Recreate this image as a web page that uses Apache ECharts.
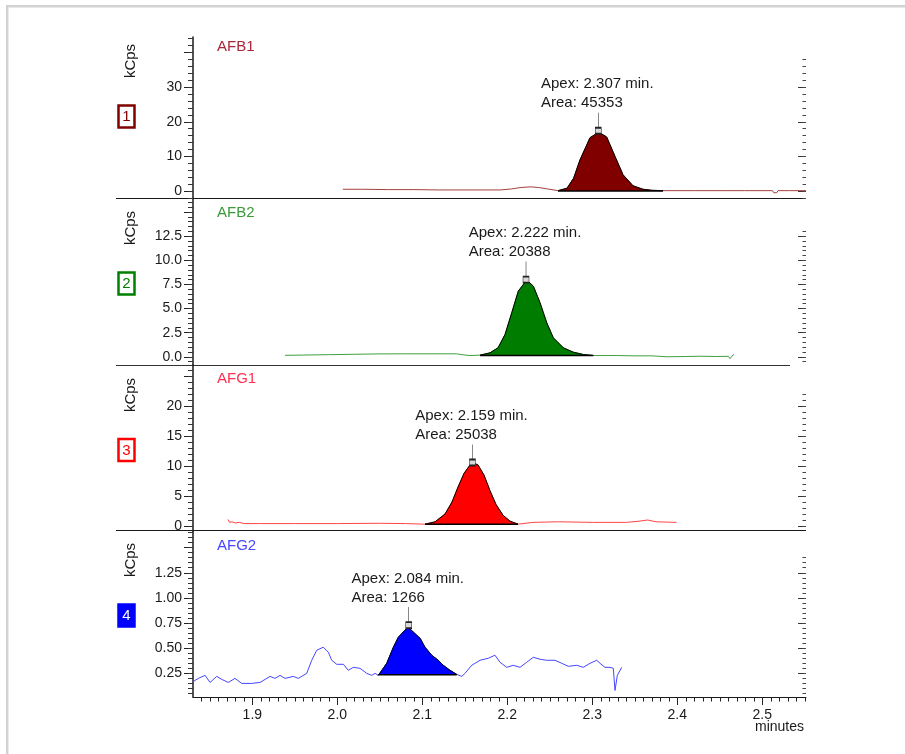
<!DOCTYPE html>
<html lang="en">
<head>
<meta charset="utf-8">
<title>AFB1 / AFB2 / AFG1 / AFG2</title>
<script src="https://cdn.jsdelivr.net/npm/echarts@6/dist/echarts.min.js"></script>
<style>
html, body {margin: 0; padding: 0; background: #fff;}
#chart {width: 905px; height: 754px;}
</style>
</head>
<body>
<div id="chart"></div>
<script>
// retention time (minutes) and signal (kCps)
const afb1Time = [2.0065, 2.030, 2.060, 2.090, 2.120, 2.150, 2.175, 2.192, 2.205, 2.216, 2.227, 2.237, 2.247,
	2.2596, 2.2702, 2.2780, 2.2855, 2.2973, 2.3075, 2.3169, 2.3267, 2.3361, 2.3479, 2.3596, 2.3700, 2.3832,
	2.420, 2.455, 2.4790, 2.4805, 2.4820, 2.5120, 2.5135, 2.5170, 2.5185, 2.5290, 2.5305, 2.5320, 2.5514];
const afb1Signal = [0.5, 0.5, 0.4, 0.4, 0.3, 0.3, 0.3, 0.3, 0.6, 1.0, 1.2, 1.0, 0.6,
	0.1, 0.8, 3.7, 9.0, 15.4, 17.0, 15.6, 10.0, 4.7, 1.5, 0.5, 0.2, 0.1,
	0.1, 0.1, 0.1, -0.4, 0.1, 0.1, -0.5, -0.5, 0.1, 0.1, -0.4, 0.1, 0.1];

const afb2Time = [1.9385, 1.960, 1.990, 2.020, 2.050, 2.080, 2.110, 2.140, 2.1480, 2.1560,
	2.1679, 2.1796, 2.1891, 2.1973, 2.2052, 2.2129, 2.2228, 2.2306, 2.2385, 2.2464, 2.2541, 2.2659, 2.2776, 2.2894, 2.3012,
	2.330, 2.3479, 2.3495, 2.370, 2.3879, 2.410, 2.4268, 2.4450, 2.4600, 2.4620, 2.4640, 2.4667];
const afb2Signal = [0.15, 0.18, 0.22, 0.26, 0.3, 0.31, 0.31, 0.31, 0.2, 0.13,
	0.17, 0.41, 0.93, 2.31, 4.56, 6.80, 7.95, 7.32, 5.60, 3.52, 1.97, 0.93, 0.48, 0.24, 0.13,
	0.13, 0.1, 0.15, 0.1, 0.0, 0.03, 0.06, 0.03, 0.05, -0.2, 0.05, 0.25];

const afg1Time = [1.8714, 1.8730, 1.8760, 1.8800, 1.8850, 1.8900, 1.9100, 1.9500, 2.0000, 2.0500, 2.0800,
	2.1032, 2.1150, 2.1267, 2.1349, 2.1420, 2.1491, 2.1561, 2.1590, 2.1655, 2.1726, 2.1796, 2.1867, 2.1949, 2.2032, 2.2126,
	2.2300, 2.2600, 2.3000, 2.3400, 2.3550, 2.3650, 2.3750, 2.3990];
const afg1Signal = [1.1, 0.6, 0.7, 0.5, 0.6, 0.4, 0.4, 0.4, 0.4, 0.45, 0.4,
	0.3, 0.7, 2.0, 4.0, 6.5, 8.8, 10.2, 10.6, 10.2, 8.5, 5.9, 3.6, 1.8, 0.8, 0.3,
	0.6, 0.7, 0.6, 0.6, 0.8, 1.0, 0.7, 0.6];

const afg2Time = [1.8306, 1.8365, 1.8444, 1.8503, 1.8581, 1.8640, 1.8718, 1.8796, 1.8875, 1.8993,
	1.9091, 1.9209, 1.9267, 1.9326, 1.9385, 1.9482, 1.9541, 1.9640, 1.9699, 1.9758,
	1.9835, 1.9894, 1.9934, 1.9993, 2.0071, 2.0129, 2.0188, 2.0267, 2.0346, 2.0405,
	2.0444, 2.0482, 2.0581, 2.0659, 2.0718, 2.0796, 2.0835, 2.0894, 2.0973, 2.1032,
	2.1111, 2.1188, 2.1247, 2.1326, 2.1405, 2.1464, 2.1502, 2.1581, 2.1679, 2.1776,
	2.1855, 2.1914, 2.1993, 2.2071, 2.2149, 2.2228, 2.2306, 2.2385, 2.2464, 2.2561,
	2.2640, 2.2718, 2.2816, 2.2894, 2.2973, 2.3052, 2.3091, 2.3149, 2.3208, 2.3247,
	2.3267, 2.3294, 2.3346];
const afg2Signal = [0.17, 0.20, 0.23, 0.16, 0.22, 0.19, 0.16, 0.20, 0.15, 0.15,
	0.16, 0.22, 0.20, 0.23, 0.20, 0.22, 0.20, 0.25, 0.38, 0.48,
	0.51, 0.46, 0.38, 0.34, 0.34, 0.28, 0.31, 0.30, 0.25, 0.23,
	0.25, 0.23, 0.35, 0.51, 0.61, 0.68, 0.71, 0.66, 0.60, 0.51,
	0.43, 0.38, 0.33, 0.28, 0.24, 0.22, 0.25, 0.33, 0.38, 0.40,
	0.43, 0.36, 0.31, 0.33, 0.31, 0.36, 0.41, 0.39, 0.38, 0.38,
	0.35, 0.32, 0.33, 0.31, 0.35, 0.38, 0.35, 0.31, 0.31, 0.30,
	0.08, 0.23, 0.31];

const traceNames = ['AFB1', 'AFB2', 'AFG1', 'AFG2'];
const peakStart = [2.2596, 2.1679, 2.1032, 2.0482];
const peakEnd = [2.3832, 2.3012, 2.2126, 2.1405];
const peakBase = [0, 0.13, 0.3, 0.237];
const apexTime = [2.307, 2.222, 2.159, 2.084];
const apexLevel = [17.4, 8.0, 10.6, 0.73];
const peakArea = [45353, 20388, 25038, 1266];

const yMajorTicks = [[0, 10, 20, 30, 40], [0, 2.5, 5, 7.5, 10, 12.5, 15], [0, 5, 10, 15, 20, 25], [0.25, 0.5, 0.75, 1, 1.25, 1.5]];
const yTickLabels = [[0, 10, 20, 30], [0, 2.5, 5, 7.5, 10, 12.5], [0, 5, 10, 15, 20], [0.25, 0.5, 0.75, 1, 1.25]];
const xTickLabels = [1.9, 2.0, 2.1, 2.2, 2.3, 2.4, 2.5];

const font = '"Liberation Sans", Arial, sans-serif';
const xMin = 1.8302, xMax = 2.5514;

const panels = [
	{time: afb1Time, signal: afb1Signal, top: 37, height: 161.5, min: -2.17, max: 44.5, minor: 2, rightTop: 38, digits: 0,
		line: '#a5403e', fill: '#800000', text: '#a8263a', box: '#800000', kcps: 61, name: 48, boxY: 116.5},
	{time: afb2Time, signal: afb2Signal, top: 198.5, height: 166.5, min: -0.85, max: 16.4, minor: 0.5, rightTop: 13, digits: 1,
		line: '#3f9f3f', fill: '#007c00', text: '#3a9a3a', box: '#008000', kcps: 228, name: 214, boxY: 283.5},
	{time: afg1Time, signal: afg1Signal, top: 365, height: 166, min: -0.84, max: 26.9, minor: 1, rightTop: 22, digits: 0,
		line: '#ff4545', fill: '#ff0000', text: '#ff3050', box: '#ff0000', kcps: 395, name: 380, boxY: 450},
	{time: afg2Time, signal: afg2Signal, top: 531, height: 166, min: 0.015, max: 1.665, minor: 0.05, rightTop: 1.4, digits: 2,
		line: '#4646ff', fill: '#0000ff', text: '#4848ff', box: '#0000ff', kcps: 560, name: 547, boxY: 615.5}
];

function steps(from, to, step)
{
	let out = [];
	for (let k = Math.ceil(from / step - 1e-6); k * step <= to + 1e-6; k++)
		out.push(+(k * step).toFixed(4));
	return out;
}

const stem = 'path://M3,0L3,15M0,15L6,15L6,21L0,21Z';

let grid = [], xAxis = [], yAxis = [], series = [], title = [], graphic = [];

panels.forEach((p, i) =>
{
	grid.push({left: 193, right: 99, top: p.top, height: p.height});

	xAxis.push({type: 'value', gridIndex: i, min: xMin, max: xMax, show: i === 3,
		axisLine: {show: true, onZero: false, lineStyle: {color: '#1a1a1a', width: 1}},
		axisTick: {show: true, customValues: xTickLabels, length: 8, lineStyle: {color: '#222'}},
		axisLabel: {show: true, customValues: xTickLabels, formatter: v => v.toFixed(1), margin: 11,
			fontSize: 14, color: '#1a1a1a', fontFamily: font},
		splitLine: {show: false}});

	let minors = steps(p.min, p.max, p.minor);
	let common = {type: 'value', gridIndex: i, min: p.min, max: p.max, splitLine: {show: false}};
	yAxis.push({...common, position: 'left',
		axisLine: {show: true, onZero: false, lineStyle: {color: '#1a1a1a', width: 1.5}},
		axisTick: {show: true, customValues: yMajorTicks[i], length: 9, lineStyle: {color: '#222'}},
		axisLabel: {show: true, customValues: yTickLabels[i], formatter: v => v.toFixed(p.digits), margin: 11,
			fontSize: 14, color: '#1a1a1a', fontFamily: font}});
	yAxis.push({...common, position: 'left', axisLine: {show: false},
		axisTick: {show: true, customValues: minors, length: 5, lineStyle: {color: '#333'}},
		axisLabel: {show: false}});
	yAxis.push({...common, position: 'right', axisLine: {show: false},
		axisTick: {show: true, inside: true, customValues: yMajorTicks[i].filter(v => v <= p.rightTop), length: 8, lineStyle: {color: '#333'}},
		axisLabel: {show: false}});
	yAxis.push({...common, position: 'right', axisLine: {show: false},
		axisTick: {show: true, inside: true, customValues: minors.filter(v => v <= p.rightTop), length: 3.5, lineStyle: {color: '#444'}},
		axisLabel: {show: false}});

	let points = p.time.map((t, k) => [t, p.signal[k]]);
	let peak = points.filter(d => d[0] >= peakStart[i] - 1e-6 && d[0] <= peakEnd[i] + 1e-6);
	let axes = {xAxisIndex: i, yAxisIndex: 4 * i};

	series.push({...axes, type: 'line', name: traceNames[i], data: points, showSymbol: false, silent: true, z: 2,
		lineStyle: {color: p.line, width: 1}});
	series.push({...axes, type: 'line', data: peak, showSymbol: false, silent: true, z: 3,
		lineStyle: {color: '#000', width: 1},
		areaStyle: {color: p.fill, opacity: 1, origin: peakBase[i]}});
	series.push({...axes, type: 'line', data: [[peakStart[i], peakBase[i]], [peakEnd[i], peakBase[i]]],
		showSymbol: false, silent: true, z: 4, lineStyle: {color: '#000', width: 1.5}});
	series.push({...axes, type: 'scatter', data: [[apexTime[i], apexLevel[i]]], z: 5, silent: true,
		symbol: stem, symbolSize: [6, 21], symbolOffset: [0, -7.5],
		itemStyle: {color: '#d8d8d8', borderColor: '#222', borderWidth: 1, opacity: 1},
		label: {show: true, position: [-54, -37], align: 'left', verticalAlign: 'top',
			formatter: `Apex: ${apexTime[i].toFixed(3)} min.\nArea: ${peakArea[i]}`,
			fontSize: 15, lineHeight: 19, color: '#1a1a1a', fontFamily: font}});

	title.push({text: traceNames[i], left: 217, top: p.name - 9, padding: 0,
		textStyle: {color: p.text, fontSize: 15, fontWeight: 'normal', fontFamily: font}});

	graphic.push({type: 'text', x: 131, y: p.kcps, rotation: Math.PI / 2,
		style: {text: 'kCps', fill: '#1a1a1a', font: '15px ' + font, align: 'center', verticalAlign: 'middle'}});
	graphic.push({type: 'rect', shape: {x: 118.5, y: p.boxY - 11, width: 16, height: 22},
		style: {fill: i === 3 ? p.box : '#fff', stroke: p.box, lineWidth: 2.5}});
	graphic.push({type: 'text', x: 126.5, y: p.boxY + 0.5,
		style: {text: String(i + 1), fill: i === 3 ? '#fff' : p.box, font: '15px ' + font, align: 'center', verticalAlign: 'middle'}});
});

// bottom axis minor ticks (every 0.01 min)
xAxis.push({type: 'value', gridIndex: 3, min: xMin, max: xMax, position: 'bottom',
	axisLine: {show: false},
	axisTick: {show: true, customValues: steps(1.83, 2.55, 0.01), length: 4.5, lineStyle: {color: '#222'}},
	axisLabel: {show: false}, splitLine: {show: false}});

// panel separators, outer frame and the unit caption
graphic.push({type: 'line', shape: {x1: 116, y1: 198.5, x2: 806, y2: 198.5}, style: {stroke: '#1a1a1a', lineWidth: 1}});
graphic.push({type: 'line', shape: {x1: 116, y1: 365.5, x2: 790, y2: 365.5}, style: {stroke: '#333', lineWidth: 1}});
graphic.push({type: 'line', shape: {x1: 116, y1: 530.5, x2: 806, y2: 530.5}, style: {stroke: '#1a1a1a', lineWidth: 1}});
graphic.push({type: 'rect', shape: {x: 7.2, y: 6.2, width: 1000, height: 1000}, style: {fill: 'none', stroke: '#d2d2d2', lineWidth: 2.5}});
graphic.push({type: 'text', x: 804, y: 727, style: {text: 'minutes', fill: '#1a1a1a', font: '14px ' + font, align: 'right', verticalAlign: 'middle'}});

const chart = echarts.init(document.getElementById('chart'), null, {renderer: 'canvas'});
chart.setOption({
	animation: false,
	backgroundColor: '#fff',
	title,
	grid,
	xAxis,
	yAxis,
	series,
	graphic
});
</script>
</body>
</html>
